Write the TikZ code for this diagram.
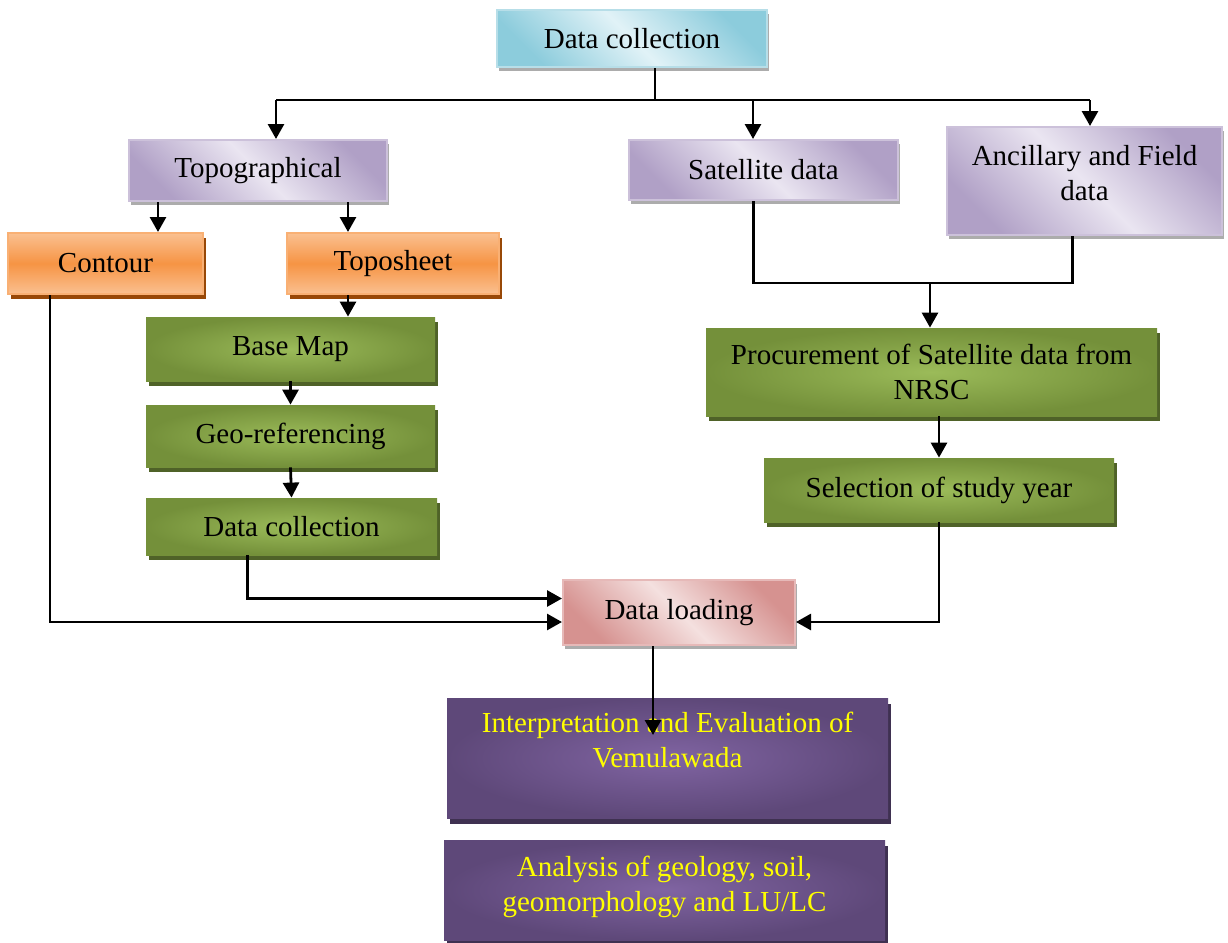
\documentclass[tikz,border=0pt]{standalone}
\usepackage{fontspec}
\setmainfont{Liberation Serif}
\usetikzlibrary{arrows.meta, positioning, calc, shadows}

\definecolor{cyanlight}{RGB}{225, 242, 247}
\definecolor{cyandark}{RGB}{140, 204, 220}
\definecolor{cyanedge}{RGB}{183, 222, 232}
\definecolor{lavlight}{RGB}{234, 229, 241}
\definecolor{lavdark}{RGB}{176, 160, 198}
\definecolor{lavedge}{RGB}{204, 193, 218}
\definecolor{orglight}{RGB}{250, 192, 144}
\definecolor{orgmid}{RGB}{246, 148, 68}
\definecolor{orgedge}{RGB}{249, 176, 116}
\definecolor{orgshadow}{RGB}{152, 72, 7}
\definecolor{grnlight}{RGB}{155, 187, 89}
\definecolor{grndark}{RGB}{116, 144, 58}
\definecolor{grnshadow}{RGB}{79, 98, 40}
\definecolor{pinklight}{RGB}{244, 224, 223}
\definecolor{pinkdark}{RGB}{214, 146, 144}
\definecolor{pinkedge}{RGB}{230, 185, 184}
\definecolor{purplight}{RGB}{128, 100, 162}
\definecolor{purpdark}{RGB}{94, 72, 121}
\definecolor{purpshadow}{RGB}{63, 49, 81}
\definecolor{txtyellow}{RGB}{255, 255, 0}

\begin{document}
\begin{tikzpicture}[
  x=0.5pt, y=-0.5pt,
  fbox/.style={rectangle, align=center, inner sep=2pt, font=\fontsize{14.5}{17.5}\selectfont},
  lightshadow/.style={drop shadow={shadow xshift=1pt, shadow yshift=-2pt, fill=gray!65, opacity=1}},
  darkshadow/.style={drop shadow={shadow xshift=1.5pt, shadow yshift=-2.5pt, fill=#1, opacity=1}},
  cyanbox/.style={fbox, lightshadow, draw=cyanedge, line width=1pt, top color=cyandark, bottom color=cyandark, middle color=cyanlight, shading angle=-45},
  lavbox/.style={fbox, lightshadow, draw=lavedge, line width=1pt, top color=lavdark, bottom color=lavdark, middle color=lavlight, shading angle=-45},
  orgbox/.style={fbox, darkshadow=orgshadow, draw=orgedge, line width=1pt, top color=orglight, bottom color=orglight, middle color=orgmid},
  grnbox/.style={fbox, darkshadow=grnshadow, shading=radial, inner color=grnlight, outer color=grndark},
  pinkbox/.style={fbox, lightshadow, draw=pinkedge, line width=1pt, top color=pinkdark, bottom color=pinkdark, middle color=pinklight, shading angle=-45},
  purpbox/.style={fbox, drop shadow={shadow xshift=1.5pt, shadow yshift=-3pt, fill=purpshadow, opacity=1}, shading=radial, inner color=purplight, outer color=purpdark, text=txtyellow},
  line/.style={line width=1.4pt},
  arr/.style={line width=1.4pt, -{Triangle[length=7.5pt, width=8pt]}}
]
  \useasboundingbox (0,0) rectangle (1228,943);

  % top row
  \node[cyanbox, minimum width=135pt, minimum height=28.5pt] (collect) at (632,38.5) {Data collection};
  \node[lavbox, minimum width=129pt, minimum height=30.5pt] (topo) at (258,170.5) {Topographical};
  \node[lavbox, minimum width=134.5pt, minimum height=30pt] (sat) at (763.5,170) {Satellite data};
  \node[lavbox, minimum width=137.5pt, minimum height=54pt] (anc) at (1084.5,181) {};
  \node[fbox, anchor=north] (anctxt) at ([yshift=-7.5pt]anc.north) {Ancillary and Field\\data};

  % left branch
  \node[orgbox, minimum width=97.5pt, minimum height=30.5pt] (contour) at (105.5,263.5) {Contour};
  \node[orgbox, minimum width=106pt, minimum height=30.5pt] (toposheet) at (393,263.5) {Toposheet};
  \node[grnbox, minimum width=144.5pt, minimum height=32pt] (basemap) at (290.5,349) {Base Map};
  \node[grnbox, minimum width=144.5pt, minimum height=31pt] (georef) at (290.5,436) {Geo-referencing};
  \node[grnbox, minimum width=145.5pt, minimum height=28.5pt] (gcollect) at (291.5,526.5) {Data collection};

  % right branch
  \node[grnbox, minimum width=225.5pt, minimum height=44pt] (procure) at (931.5,372) {Procurement of Satellite data from\\NRSC};
  \node[grnbox, minimum width=175pt, minimum height=32pt] (select) at (939,490) {Selection of study year};

  % bottom
  \node[pinkbox, minimum width=116pt, minimum height=32.5pt] (loading) at (679,612.5) {Data loading};
  \node[purpbox, minimum width=220.5pt, minimum height=60pt] (interp) at (667.5,758) {};
  \node[fbox, text=txtyellow, anchor=north] (interptxt) at ([yshift=-5pt]interp.north) {Interpretation and Evaluation of\\Vemulawada};
  \node[purpbox, minimum width=220.5pt, minimum height=50pt] (analysis) at (664.5,890) {};
  \node[fbox, text=txtyellow, anchor=north] (analysistxt) at ([yshift=-6pt]analysis.north) {Analysis of geology, soil,\\geomorphology and LU/LC};

  % connectors
  \coordinate (split) at (655,100);
  \coordinate (busL) at (276,100);
  \coordinate (busM) at (753,100);
  \coordinate (busR) at (1090,100);
  \draw[line] (collect.south -| split) -- (split);
  \draw[line] (busL) -- (busR);
  \draw[arr] (busL) -- (busL |- topo.north);
  \draw[arr] (busM) -- (busM |- sat.north);
  \draw[arr] (busR) -- (busR |- anc.north);

  \coordinate (tleft) at ([xshift=-50pt]topo.south);
  \coordinate (tright) at ([xshift=45pt]topo.south);
  \draw[arr] (tleft) -- (tleft |- contour.north);
  \draw[arr] (tright) -- (tright |- toposheet.north);
  \draw[arr] (tright |- toposheet.south) -- (tright |- basemap.north);
  \draw[arr] (basemap.south) -- (georef.north);
  \draw[arr] (georef.south) -- (gcollect.north);

  \coordinate (join) at (930,283);
  \draw[line] ([xshift=-5pt]sat.south) |- (join);
  \draw[line] ([xshift=-6pt]anc.south) |- (join);
  \draw[arr] (join) -- (join |- procure.north);
  \draw[arr] (procure.south -| select.north) -- (select.north);

  \draw[arr] ([xshift=-22pt]gcollect.south) |- ([yshift=7pt]loading.west);
  \draw[arr] ([xshift=-27.75pt]contour.south) |- ([yshift=-4.75pt]loading.west);
  \draw[arr] (select.south) |- ([yshift=-4.75pt]loading.east);

  \coordinate (interpin) at (653,735);
  \draw[arr] (loading.south -| interpin) -- (interpin);
\end{tikzpicture}
\end{document}
